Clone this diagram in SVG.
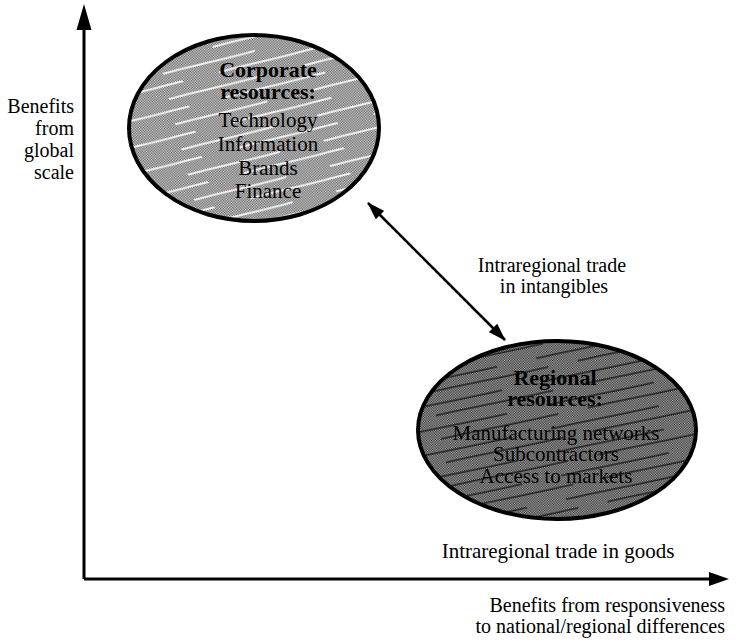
<svg xmlns="http://www.w3.org/2000/svg" width="736" height="643" viewBox="0 0 736 643">
  <style>
    .lbl { font-family: "Liberation Serif", "Times New Roman", serif; font-size: 20px; fill: #000; }
    .head { font-family: "Liberation Serif", "Times New Roman", serif; font-size: 22px; font-weight: bold; fill: #000; text-anchor: middle; }
    .item { font-family: "Liberation Serif", "Times New Roman", serif; font-size: 21px; fill: #000; text-anchor: middle; }
    .axis { stroke: #000; stroke-width: 3; fill: none; }
    .conn { stroke: #000; stroke-width: 2.5; fill: none; }
    .ell { stroke: #000; stroke-width: 4; }
  </style>
  <defs>
    <pattern id="dots" width="2" height="2" patternUnits="userSpaceOnUse">
      <rect width="2" height="2" fill="#dcdcdc"/>
      <rect width="1" height="1" fill="#5a5a5a"/>
      <rect x="1" y="1" width="1" height="1" fill="#5a5a5a"/>
    </pattern>
    <pattern id="dotsDark" width="2" height="2" patternUnits="userSpaceOnUse">
      <rect width="2" height="2" fill="#b0b0b0"/>
      <rect width="1" height="1" fill="#2a2a2a"/>
      <rect x="1" y="1" width="1" height="1" fill="#2a2a2a"/>
    </pattern>
    <pattern id="streakLight" width="140" height="26" patternUnits="userSpaceOnUse" patternTransform="rotate(-14)">
      <rect width="140" height="26" fill="url(#dots)"/>
      <path d="M0 7 C30 6 60 8 95 7 M55 19 C85 18 110 20 140 19 M0 19 H18" stroke="#fff" stroke-width="1.8" opacity="0.85" fill="none"/>
    </pattern>
    <pattern id="streakDark" width="150" height="24" patternUnits="userSpaceOnUse" patternTransform="rotate(-12)">
      <rect width="150" height="24" fill="url(#dotsDark)"/>
      <path d="M0 6 C35 5 70 7 110 6 M40 17 C75 16 110 18 150 17 M0 17 H10" stroke="#111" stroke-width="1.5" opacity="0.85" fill="none"/>
    </pattern>
    <marker id="arr" viewBox="0 0 18 12" refX="17" refY="6" markerWidth="18" markerHeight="12" markerUnits="userSpaceOnUse" orient="auto-start-reverse">
      <path d="M0 0 L18 6 L0 12 Z" fill="#000"/>
    </marker>
  </defs>

  <g id="axes">
    <line class="axis" x1="84" y1="579" x2="84" y2="28"/>
    <path d="M84 4 L76.5 30 L91.5 30 Z" fill="#000"/>
    <line class="axis" x1="84" y1="579" x2="712" y2="579"/>
    <path d="M729 579 L709 572 L709 586 Z" fill="#000"/>
  </g>

  <g id="axis-labels">
    <text class="lbl" text-anchor="end" x="74" y="113">Benefits</text>
    <text class="lbl" text-anchor="end" x="74" y="135">from</text>
    <text class="lbl" text-anchor="end" x="74" y="157">global</text>
    <text class="lbl" text-anchor="end" x="74" y="179">scale</text>
    <text class="lbl" text-anchor="end" x="725" y="612">Benefits from responsiveness</text>
    <text class="lbl" text-anchor="end" x="725" y="633">to national/regional differences</text>
  </g>

  <g id="corporate">
    <ellipse class="ell" cx="254" cy="128" rx="125" ry="93" fill="url(#streakLight)"/>
    <text class="head" x="268" y="77">Corporate</text>
    <text class="head" x="268" y="99">resources:</text>
    <text class="item" x="268" y="127">Technology</text>
    <text class="item" x="268" y="151">Information</text>
    <text class="item" x="268" y="175">Brands</text>
    <text class="item" x="268" y="198">Finance</text>
  </g>

  <g id="regional">
    <ellipse class="ell" cx="557" cy="430" rx="139" ry="89" fill="url(#streakDark)"/>
    <text class="head" x="555" y="385">Regional</text>
    <text class="head" x="555" y="406">resources:</text>
    <text class="item" x="556" y="440">Manufacturing networks</text>
    <text class="item" x="556" y="461">Subcontractors</text>
    <text class="item" x="556" y="483">Access to markets</text>
  </g>

  <g id="connectors">
    <line class="conn" x1="368" y1="203" x2="505" y2="340" marker-start="url(#arr)" marker-end="url(#arr)"/>
  </g>

  <g id="trade-labels">
    <text class="lbl" text-anchor="middle" x="552" y="272">Intraregional trade</text>
    <text class="lbl" text-anchor="middle" x="554" y="293">in intangibles</text>
    <text class="lbl" text-anchor="middle" x="558" y="558" style="font-size:21px">Intraregional trade in goods</text>
  </g>
</svg>
